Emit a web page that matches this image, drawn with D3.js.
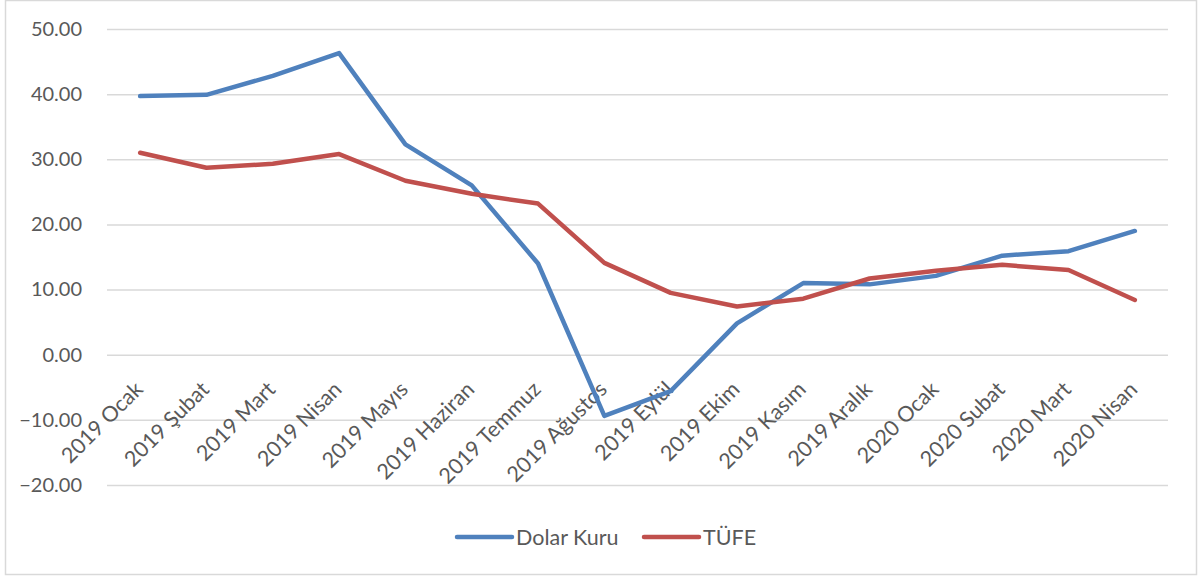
<!DOCTYPE html>
<html>
<head>
<meta charset="utf-8">
<script src="https://cdn.jsdelivr.net/npm/d3@7"></script>
<style>
  body { margin: 0; background: #fff; }
  text { font-family: Lato, "Open Sans", sans-serif; fill: #595959; }
</style>
</head>
<body>
<svg id="contenedor"></svg>
<script>
// categorias del eje x
let meses = [
  "2019 Ocak", "2019 Şubat", "2019 Mart", "2019 Nisan", "2019 Mayıs",
  "2019 Haziran", "2019 Temmuz", "2019 Ağustos", "2019 Eylül", "2019 Ekim",
  "2019 Kasım", "2019 Aralık", "2020 Ocak", "2020 Subat", "2020 Mart", "2020 Nisan"
];

// series
let dolarKuru = [39.7, 39.9, 42.8, 46.3, 32.3, 26.0, 14.0, -9.4, -5.6, 4.8, 11.0, 10.8, 12.1, 15.2, 15.9, 19.0];
let tufe = [31.0, 28.7, 29.3, 30.8, 26.7, 24.7, 23.2, 14.1, 9.5, 7.4, 8.6, 11.7, 12.9, 13.8, 13.0, 8.4];

// ticks del eje y
let yTicks = [-20, -10, 0, 10, 20, 30, 40, 50];

let series = [
  { nombre: "Dolar Kuru", valores: dolarKuru, color: "#4F81BD" },
  { nombre: "TÜFE", valores: tufe, color: "#C0504D" }
];

// configuracion del area
function getConfig() {
  let width = 1198;
  let height = 579;
  let margin = { top: 29, bottom: 94, left: 107, right: 30 };
  let bodyWidth = width - margin.left - margin.right;
  let bodyHeight = height - margin.top - margin.bottom;
  let container = d3.select("#contenedor").attr("width", width).attr("height", height);
  return { width, height, margin, bodyWidth, bodyHeight, container };
}

function getScales(config) {
  let { bodyWidth, bodyHeight } = config;
  let xScale = d3.scaleBand().domain(meses).range([0, bodyWidth]);
  let yScale = d3.scaleLinear().domain([-20, 50]).range([bodyHeight, 0]);
  return { xScale, yScale };
}

// marco exterior
function dibujarMarco(config) {
  config.container.append("rect")
    .attr("x", 5.5).attr("y", 0.5)
    .attr("width", config.width - 7).attr("height", config.height - 5)
    .attr("fill", "none").attr("stroke", "#d9d9d9").attr("stroke-width", 1.5);
}

function dibujarEjes(scales, config) {
  let { xScale, yScale } = scales;
  let { container, margin, bodyWidth } = config;

  let axisY = d3.axisLeft(yScale)
    .tickValues(yTicks)
    .tickSize(-bodyWidth)
    .tickPadding(25)
    .tickFormat(d3.format(".2f"));

  let gy = container.append("g")
    .attr("transform", `translate(${margin.left},${margin.top})`)
    .call(axisY);
  gy.select(".domain").remove();
  gy.selectAll(".tick line").attr("stroke", "#d9d9d9").attr("stroke-width", 1.5);
  gy.selectAll(".tick text").attr("font-size", "20px").style("fill", "#595959");

  // etiquetas del eje x, giradas, debajo de la linea del cero
  let y0 = margin.top + yScale(0);
  container.append("g")
    .selectAll("text")
    .data(meses)
    .join("text")
    .attr("text-anchor", "end")
    .attr("font-size", "21.5px")
    .attr("transform", (d) => {
      let x = margin.left + xScale(d) + xScale.bandwidth() / 2 + 4;
      return `translate(${x},${y0 + 36}) rotate(-45)`;
    })
    .text((d) => d);
}

function dibujarLineas(scales, config) {
  let { xScale, yScale } = scales;
  let { container, margin } = config;
  let body = container.append("g").attr("transform", `translate(${margin.left},${margin.top})`);

  let line = d3.line()
    .x((d, i) => xScale(meses[i]) + xScale.bandwidth() / 2)
    .y((d) => yScale(d));

  body.selectAll(".serie")
    .data(series)
    .join("path")
    .attr("class", "serie")
    .attr("d", (d) => line(d.valores))
    .attr("fill", "none")
    .attr("stroke", (d) => d.color)
    .attr("stroke-width", 4.5)
    .attr("stroke-linejoin", "round")
    .attr("stroke-linecap", "round");
}

function dibujarLeyenda(config) {
  let { container } = config;
  let posX = [457, 644];
  let y = 537;
  let items = container.append("g")
    .selectAll("g")
    .data(series)
    .join("g")
    .attr("transform", (d, i) => `translate(${posX[i]},${y})`);

  items.append("line")
    .attr("x1", 0).attr("x2", 55)
    .attr("stroke", (d) => d.color)
    .attr("stroke-width", 4.5)
    .attr("stroke-linecap", "round");

  items.append("text")
    .attr("x", 59).attr("dy", "0.35em")
    .attr("font-size", "21.5px")
    .text((d) => d.nombre);
}

function dibujarChart() {
  let config = getConfig();
  let scales = getScales(config);
  dibujarMarco(config);
  dibujarEjes(scales, config);
  dibujarLineas(scales, config);
  dibujarLeyenda(config);
}

dibujarChart();
</script>
</body>
</html>
